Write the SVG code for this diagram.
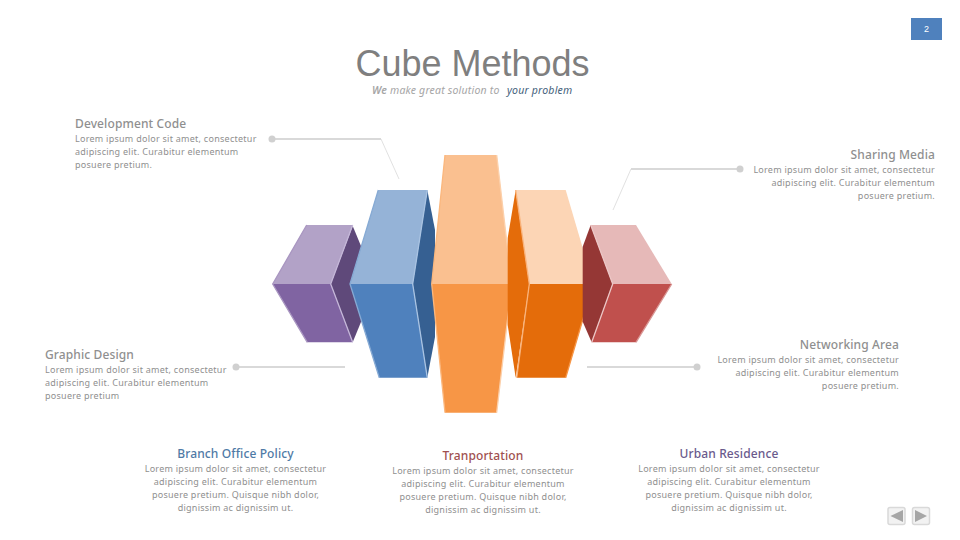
<svg xmlns="http://www.w3.org/2000/svg" width="960" height="540" viewBox="0 0 960 540">
<style>
text{font-family:"Noto Sans","Open Sans",sans-serif}
.h{font-size:12px;font-weight:500;fill:#8f8f8f;letter-spacing:.12px}
.b{font-size:9px;fill:#8f8f8f;letter-spacing:.26px}
.m{text-anchor:middle}.e{text-anchor:end}
.ln{fill:none;stroke:#d9d9d9;stroke-width:2}
.tn{fill:none;stroke:#d9d9d9;stroke-width:.8}
.dot{fill:#d0d0d0}
.nav{fill:#f2f2f2;stroke:#d9d9d9;stroke-width:1.5}
.edge{fill:none;stroke-width:1.3}
</style>
<rect width="960" height="540" fill="#fff"/>
<g id="page"><rect x="911" y="18" width="31" height="22" fill="#4f81bd"/><text x="926.500" y="32" class="m" font-size="9" fill="#fff" style="font-family:'Liberation Sans',sans-serif">2</text></g>
<g id="title"><text x="472.500" y="76" class="m" font-size="36" fill="#7f7f7f" style="font-family:'Liberation Sans',sans-serif">Cube Methods</text>
<text x="372" y="94" font-size="10.500" font-style="italic" fill="#a6a6a6" letter-spacing=".2"><tspan font-weight="600">We</tspan> make great solution to <tspan x="507" fill="#44617b">your problem</tspan></text></g>
<g id="connectors">
<polyline class="ln" points="272,139 381,139"/><polyline class="tn" points="381,139 399,179"/><circle class="dot" cx="272" cy="139" r="3.500"/>
<polyline class="ln" points="740,169 631,169"/><polyline class="tn" points="631,169 613,210"/><circle class="dot" cx="740" cy="169" r="3.500"/>
<polyline class="ln" points="236,367 345,367"/><circle class="dot" cx="236" cy="367" r="3.500"/>
<polyline class="ln" points="697,367 587,367"/><circle class="dot" cx="697" cy="367" r="3.500"/>
</g>
<g id="cube-purple">
<polygon points="352.700,226 361,246 361,322 352.700,342.300 330.700,284" fill="#5f497a"/>
<polygon points="306.700,225 352.700,225 330.700,284 272.700,284" fill="#b2a2c7"/>
<polygon points="272.700,284 330.700,284 352.700,342.300 307.300,342.300" fill="#8064a2"/>
<polyline class="edge" points="352.700,225 330.700,284 352.700,342.300" stroke="#c4b6d8"/>
<polyline class="edge" points="306.700,225 272.700,284 307.300,342.300" stroke="#a996c1"/>
</g>
<g id="cube-blue">
<polygon points="427.300,190 435,230 435,337 427.300,377.700 412.700,284" fill="#366092"/>
<polygon points="378.300,190 427.300,190 412.700,284 350,284" fill="#95b3d7"/>
<polygon points="350,284 412.700,284 427.300,377.700 379.300,377.700" fill="#4f81bd"/>
<polyline class="edge" points="427.300,190 412.700,284 427.300,377.700" stroke="#a9c3e2"/>
<polyline class="edge" points="378.300,190 350,284 379.300,377.700" stroke="#86aad4"/>
</g>
<g id="cube-orange">
<polygon points="445,155 496.700,155 511.700,284 431.700,284" fill="#fac090"/>
<polygon points="431.700,284 511.700,284 496.700,412.700 445,412.700" fill="#f79646"/>
<polyline class="edge" points="496.700,155 511.700,284 496.700,412.700" stroke="#fcd0ab"/>
<polyline class="edge" points="445,155 431.700,284 445,412.700" stroke="#fbb77d"/>
</g>
<g id="cube-amber">
<polygon points="515.700,190 507.700,238 507.700,325 515.700,377.700 529.300,284" fill="#e46c0a"/>
<polygon points="515.700,190 565.700,190 593.300,284 529.300,284" fill="#fcd5b5"/>
<polygon points="529.300,284 593.300,284 565.700,377.700 516.700,377.700" fill="#e46c0a"/>
<polyline class="edge" points="515.700,190 529.300,284 516.700,377.700" stroke="#f9b27a"/>
<polyline class="edge" points="593.300,284 565.700,377.700" stroke="#f79646"/>
</g>
<g id="cube-red">
<polygon points="590.700,225 582.700,246.700 582.700,321.700 591.700,342.300 612.700,284" fill="#953735"/>
<polygon points="590.700,225 636,225 671.700,284 612.700,284" fill="#e6b9b8"/>
<polygon points="612.700,284 671.700,284 636,342.300 591.700,342.300" fill="#c0504d"/>
<polyline class="edge" points="590.700,225 612.700,284 591.700,342.300" stroke="#ecc6c5"/>
<polyline class="edge" points="671.700,284 636,342.300" stroke="#d99694"/>
</g>
<g id="dev-code"><text x="75" y="128" class="h">Development Code</text><text class="b"><tspan x="75" y="142">Lorem ipsum dolor sit amet, consectetur</tspan><tspan x="75" y="155">adipiscing elit. Curabitur elementum</tspan><tspan x="75" y="168">posuere pretium.</tspan></text></g>
<g id="sharing-media"><text x="935" y="159" class="h e">Sharing Media</text><text class="b e"><tspan x="935" y="173">Lorem ipsum dolor sit amet, consectetur</tspan><tspan x="935" y="186">adipiscing elit. Curabitur elementum</tspan><tspan x="935" y="199">posuere pretium.</tspan></text></g>
<g id="graphic-design"><text x="45" y="359" class="h">Graphic Design</text><text class="b"><tspan x="45" y="373">Lorem ipsum dolor sit amet, consectetur</tspan><tspan x="45" y="386">adipiscing elit. Curabitur elementum</tspan><tspan x="45" y="399">posuere pretium</tspan></text></g>
<g id="networking-area"><text x="899" y="349" class="h e">Networking Area</text><text class="b e"><tspan x="899" y="363">Lorem ipsum dolor sit amet, consectetur</tspan><tspan x="899" y="376">adipiscing elit. Curabitur elementum</tspan><tspan x="899" y="389">posuere pretium.</tspan></text></g>
<g id="branch-office"><text x="235.500" y="458" class="h m" style="fill:#4f7aa6">Branch Office Policy</text><text class="b m"><tspan x="235.500" y="472">Lorem ipsum dolor sit amet, consectetur</tspan><tspan x="235.500" y="485">adipiscing elit. Curabitur elementum</tspan><tspan x="235.500" y="498">posuere pretium. Quisque nibh dolor,</tspan><tspan x="235.500" y="511">dignissim ac dignissim ut.</tspan></text></g>
<g id="transportation"><text x="483" y="460" class="h m" style="fill:#a0504f">Tranportation</text><text class="b m"><tspan x="483" y="474">Lorem ipsum dolor sit amet, consectetur</tspan><tspan x="483" y="487">adipiscing elit. Curabitur elementum</tspan><tspan x="483" y="500">posuere pretium. Quisque nibh dolor,</tspan><tspan x="483" y="513">dignissim ac dignissim ut.</tspan></text></g>
<g id="urban-residence"><text x="729" y="458" class="h m" style="fill:#6a5a8c">Urban Residence</text><text class="b m"><tspan x="729" y="472">Lorem ipsum dolor sit amet, consectetur</tspan><tspan x="729" y="485">adipiscing elit. Curabitur elementum</tspan><tspan x="729" y="498">posuere pretium. Quisque nibh dolor,</tspan><tspan x="729" y="511">dignissim ac dignissim ut.</tspan></text></g>
<g id="nav-prev"><rect class="nav" x="888" y="507.500" width="17" height="17" rx="2"/><polygon points="890.500,516 903,510 903,522" fill="#a6a6a6"/></g>
<g id="nav-next"><rect class="nav" x="912.500" y="507.500" width="17" height="17" rx="2"/><polygon points="927,516 915,510 915,522" fill="#a6a6a6"/></g>
</svg>
